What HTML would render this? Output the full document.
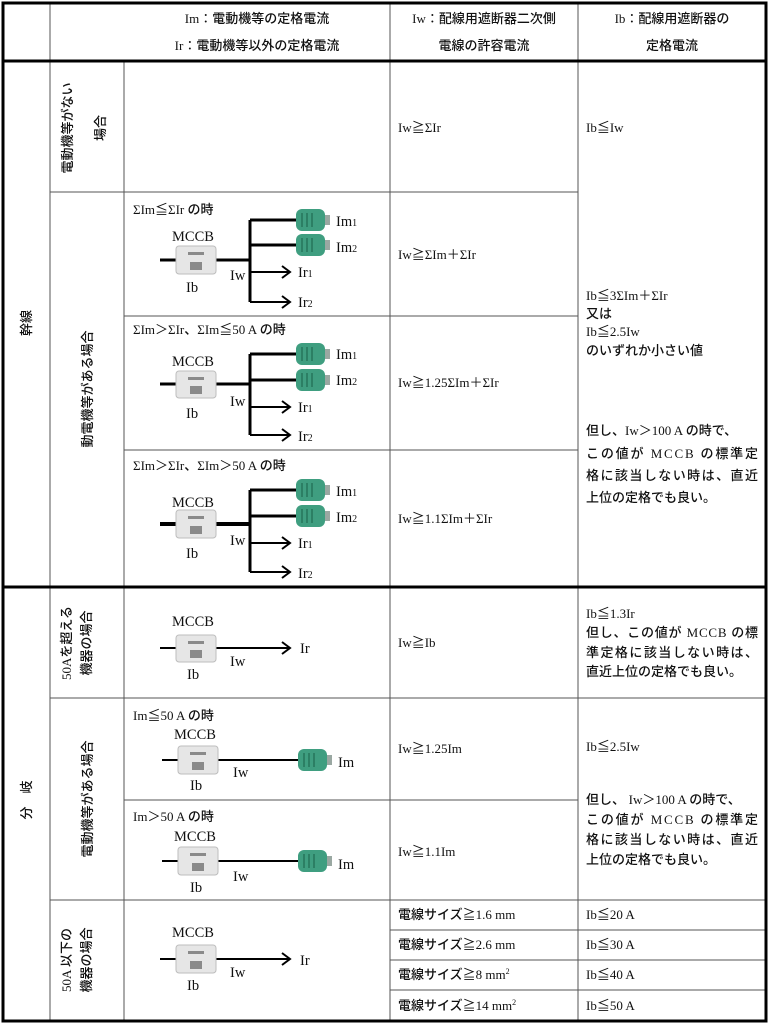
<!DOCTYPE html>
<html><head><meta charset="utf-8"><style>
html,body{margin:0;padding:0;background:#fff;}
svg{display:block;}
text{font-family:"Liberation Serif","Noto Sans CJK JP",serif;font-size:13px;fill:#111;}
.j{font-family:"Liberation Sans","Noto Sans CJK JP",sans-serif;font-weight:500;}
.m{font-size:14.5px;}
.g{stroke:#555;stroke-width:1;}
.k{stroke:#000;stroke-width:3;}
.w{stroke:#000;stroke-width:3;fill:none;}
.a{stroke:#000;stroke-width:2;fill:none;}
</style></head><body>
<svg width="769" height="1024" viewBox="0 0 769 1024" xmlns="http://www.w3.org/2000/svg">
<g class="g">
<line x1="50" y1="3" x2="50" y2="1021"/>
<line x1="124" y1="62" x2="124" y2="1021"/>
<line x1="390" y1="3" x2="390" y2="1021"/>
<line x1="578" y1="3" x2="578" y2="1021"/>
<line x1="50" y1="192" x2="578" y2="192"/>
<line x1="124" y1="316" x2="578" y2="316"/>
<line x1="124" y1="450" x2="578" y2="450"/>
<line x1="50" y1="698" x2="766" y2="698"/>
<line x1="124" y1="800" x2="578" y2="800"/>
<line x1="50" y1="900" x2="766" y2="900"/>
<line x1="390" y1="930" x2="766" y2="930"/>
<line x1="390" y1="960" x2="766" y2="960"/>
<line x1="390" y1="990" x2="766" y2="990"/>
</g>
<g class="k">
<rect x="3" y="3" width="763" height="1018" fill="none"/>
<line x1="3" y1="61" x2="766" y2="61"/>
<line x1="3" y1="587" x2="766" y2="587"/>
</g>
<text x="257" y="23" text-anchor="middle">Im：<tspan class="j">電動機等の定格電流</tspan></text>
<text x="257" y="50" text-anchor="middle">Ir：<tspan class="j">電動機等以外の定格電流</tspan></text>
<text x="484" y="23" text-anchor="middle">Iw：<tspan class="j">配線用遮断器二次側</tspan></text>
<text x="484" y="50" text-anchor="middle" class="j">電線の許容電流</text>
<text x="672" y="23" text-anchor="middle">Ib：<tspan class="j">配線用遮断器の</tspan></text>
<text x="672" y="50" text-anchor="middle" class="j">定格電流</text>
<text class="j" transform="translate(31,323) rotate(-90)" text-anchor="middle">幹線</text>
<text class="j" transform="translate(31,800) rotate(-90)" text-anchor="middle">分　岐</text>
<text class="j" transform="translate(72,128) rotate(-90)" text-anchor="middle">電動機等がない</text>
<text class="j" transform="translate(105,128) rotate(-90)" text-anchor="middle">場合</text>
<text class="j" transform="translate(92,389) rotate(-90)" text-anchor="middle">動電機等がある場合</text>
<text transform="translate(71,643) rotate(-90)" text-anchor="middle">50A<tspan class="j">を超える</tspan></text>
<text class="j" transform="translate(91,643) rotate(-90)" text-anchor="middle">機器の場合</text>
<text class="j" transform="translate(92,799) rotate(-90)" text-anchor="middle">電動機等がある場合</text>
<text transform="translate(71,960) rotate(-90)" text-anchor="middle">50A <tspan class="j">以下の</tspan></text>
<text class="j" transform="translate(91,960) rotate(-90)" text-anchor="middle">機器の場合</text>
<text x="398" y="132">Iw≧ΣIr</text>
<text x="398" y="259">Iw≧ΣIm＋ΣIr</text>
<text x="398" y="387">Iw≧1.25ΣIm＋ΣIr</text>
<text x="398" y="523">Iw≧1.1ΣIm＋ΣIr</text>
<text x="398" y="647">Iw≧Ib</text>
<text x="398" y="753">Iw≧1.25Im</text>
<text x="398" y="856">Iw≧1.1Im</text>
<text x="398" y="919"><tspan class="j">電線サイズ</tspan>≧1.6 mm</text>
<text x="398" y="949"><tspan class="j">電線サイズ</tspan>≧2.6 mm</text>
<text x="398" y="979"><tspan class="j">電線サイズ</tspan>≧8 mm<tspan font-size="8" dy="-5">2</tspan></text>
<text x="398" y="1010"><tspan class="j">電線サイズ</tspan>≧14 mm<tspan font-size="8" dy="-5">2</tspan></text>
<text x="586" y="132">Ib≦Iw</text>
<text x="586" y="300">Ib≦3ΣIm＋ΣIr</text>
<text x="586" y="318" class="j">又は</text>
<text x="586" y="336">Ib≦2.5Iw</text>
<text x="586" y="355" class="j">のいずれか小さい値</text>
<text x="586" y="435"><tspan class="j">但し、</tspan>Iw＞100 A <tspan class="j">の時で、</tspan></text>
<text x="586" y="458" textLength="172" lengthAdjust="spacing"><tspan class="j">この値が </tspan>MCCB <tspan class="j">の標準定</tspan></text>
<text x="586" y="480" class="j" textLength="172" lengthAdjust="spacing">格に該当しない時は、直近</text>
<text x="586" y="502" class="j">上位の定格でも良い。</text>
<text x="586" y="618">Ib≦1.3Ir</text>
<text x="586" y="637" textLength="172" lengthAdjust="spacing"><tspan class="j">但し、この値が </tspan>MCCB <tspan class="j">の標</tspan></text>
<text x="586" y="657" class="j" textLength="172" lengthAdjust="spacing">準定格に該当しない時は、</text>
<text x="586" y="676" class="j">直近上位の定格でも良い。</text>
<text x="586" y="751">Ib≦2.5Iw</text>
<text x="586" y="804"><tspan class="j">但し、 </tspan>Iw＞100 A <tspan class="j">の時で、</tspan></text>
<text x="586" y="824" textLength="172" lengthAdjust="spacing"><tspan class="j">この値が </tspan>MCCB <tspan class="j">の標準定</tspan></text>
<text x="586" y="844" class="j" textLength="172" lengthAdjust="spacing">格に該当しない時は、直近</text>
<text x="586" y="864" class="j">上位の定格でも良い。</text>
<text x="586" y="919">Ib≦20 A</text>
<text x="586" y="949">Ib≦30 A</text>
<text x="586" y="979">Ib≦40 A</text>
<text x="586" y="1010">Ib≦50 A</text>

<g>
<text x="133" y="214">ΣIm≦ΣIr <tspan class="j">の時</tspan></text>
<text x="193" y="241" text-anchor="middle" class="m">MCCB</text>
<line x1="160" y1="260" x2="250" y2="260" class="w"/>
<line x1="250" y1="220" x2="250" y2="302" class="w"/>
<line x1="250" y1="220" x2="298" y2="220" class="w"/>
<line x1="250" y1="245" x2="298" y2="245" class="w"/>
<line x1="250" y1="272" x2="290" y2="272" class="a"/><polyline points="282,266 290,272 282,278" class="a"/>
<line x1="250" y1="302" x2="290" y2="302" class="a"/><polyline points="282,296 290,302 282,308" class="a"/>
<text x="230" y="280" class="m">Iw</text><text x="186" y="292" class="m">Ib</text>
<text x="336" y="226" class="m">Im<tspan font-size="10">1</tspan></text>
<text x="336" y="252" class="m">Im<tspan font-size="10">2</tspan></text>
<text x="298" y="277" class="m">Ir<tspan font-size="10">1</tspan></text>
<text x="298" y="307" class="m">Ir<tspan font-size="10">2</tspan></text>
</g>
<g>
<text x="133" y="334">ΣIm＞ΣIr<tspan class="j">、</tspan>ΣIm≦50 A <tspan class="j">の時</tspan></text>
<text x="193" y="366" text-anchor="middle" class="m">MCCB</text>
<line x1="160" y1="384" x2="250" y2="384" class="w"/>
<line x1="250" y1="354" x2="250" y2="435" class="w"/>
<line x1="250" y1="354" x2="298" y2="354" class="w"/>
<line x1="250" y1="380" x2="298" y2="380" class="w"/>
<line x1="250" y1="407" x2="290" y2="407" class="a"/><polyline points="282,401 290,407 282,413" class="a"/>
<line x1="250" y1="435" x2="290" y2="435" class="a"/><polyline points="282,429 290,435 282,441" class="a"/>
<text x="230" y="406" class="m">Iw</text><text x="186" y="418" class="m">Ib</text>
<text x="336" y="359" class="m">Im<tspan font-size="10">1</tspan></text>
<text x="336" y="385" class="m">Im<tspan font-size="10">2</tspan></text>
<text x="298" y="412" class="m">Ir<tspan font-size="10">1</tspan></text>
<text x="298" y="441" class="m">Ir<tspan font-size="10">2</tspan></text>
</g>
<g>
<text x="133" y="470">ΣIm＞ΣIr<tspan class="j">、</tspan>ΣIm＞50 A <tspan class="j">の時</tspan></text>
<text x="193" y="507" text-anchor="middle" class="m">MCCB</text>
<line x1="160" y1="524" x2="250" y2="524" class="w" style="stroke-width:4"/>
<line x1="250" y1="490" x2="250" y2="572" class="w"/>
<line x1="250" y1="490" x2="298" y2="490" class="w"/>
<line x1="250" y1="516" x2="298" y2="516" class="w"/>
<line x1="250" y1="543" x2="290" y2="543" class="a"/><polyline points="282,537 290,543 282,549" class="a"/>
<line x1="250" y1="572" x2="290" y2="572" class="a"/><polyline points="282,566 290,572 282,578" class="a"/>
<text x="230" y="545" class="m">Iw</text><text x="186" y="558" class="m">Ib</text>
<text x="336" y="496" class="m">Im<tspan font-size="10">1</tspan></text>
<text x="336" y="522" class="m">Im<tspan font-size="10">2</tspan></text>
<text x="298" y="548" class="m">Ir<tspan font-size="10">1</tspan></text>
<text x="298" y="578" class="m">Ir<tspan font-size="10">2</tspan></text>
</g>
<g>
<text x="193" y="626" text-anchor="middle" class="m">MCCB</text>
<line x1="160" y1="648" x2="290" y2="648" class="a"/><polyline points="282,642 290,648 282,654" class="a"/>
<text x="300" y="653" class="m">Ir</text><text x="230" y="666" class="m">Iw</text><text x="187" y="679" class="m">Ib</text>
</g>
<g>
<text x="133" y="720">Im≦50 A <tspan class="j">の時</tspan></text>
<text x="195" y="739" text-anchor="middle" class="m">MCCB</text>
<line x1="162" y1="760" x2="300" y2="760" class="a"/>
<text x="338" y="767" class="m">Im</text><text x="233" y="777" class="m">Iw</text><text x="190" y="790" class="m">Ib</text>
</g>
<g>
<text x="133" y="821">Im＞50 A <tspan class="j">の時</tspan></text>
<text x="195" y="841" text-anchor="middle" class="m">MCCB</text>
<line x1="162" y1="861" x2="300" y2="861" class="a"/>
<text x="338" y="869" class="m">Im</text><text x="233" y="881" class="m">Iw</text><text x="190" y="892" class="m">Ib</text>
</g>
<g>
<text x="193" y="937" text-anchor="middle" class="m">MCCB</text>
<line x1="160" y1="959" x2="290" y2="959" class="a"/><polyline points="282,953 290,959 282,965" class="a"/>
<text x="300" y="965" class="m">Ir</text><text x="230" y="977" class="m">Iw</text><text x="187" y="990" class="m">Ib</text>
</g>

<g fill="#e6e6e6" stroke="#bdbdbd">
<rect x="176" y="246" width="40" height="28" rx="3"/>
<rect x="176" y="371" width="40" height="27" rx="3"/>
<rect x="176" y="510" width="40" height="28" rx="3"/>
<rect x="176" y="635" width="40" height="27" rx="3"/>
<rect x="178" y="746" width="40" height="28" rx="3"/>
<rect x="178" y="847" width="40" height="28" rx="3"/>
<rect x="176" y="945" width="40" height="28" rx="3"/>
</g>
<g fill="#8a8a8a">
<rect x="188" y="252" width="16" height="3"/><rect x="190" y="262" width="12" height="8"/>
<rect x="188" y="377" width="16" height="3"/><rect x="190" y="386" width="12" height="8"/>
<rect x="188" y="516" width="16" height="3"/><rect x="190" y="526" width="12" height="8"/>
<rect x="188" y="641" width="16" height="3"/><rect x="190" y="650" width="12" height="8"/>
<rect x="190" y="752" width="16" height="3"/><rect x="192" y="762" width="12" height="8"/>
<rect x="190" y="853" width="16" height="3"/><rect x="192" y="863" width="12" height="8"/>
<rect x="188" y="951" width="16" height="3"/><rect x="190" y="961" width="12" height="8"/>
</g>
<g>
<g fill="#3f9e80">
<rect x="296" y="209" width="29" height="22" rx="6"/><rect x="296" y="234" width="29" height="22" rx="6"/>
<rect x="296" y="343" width="29" height="22" rx="6"/><rect x="296" y="369" width="29" height="22" rx="6"/>
<rect x="296" y="479" width="29" height="22" rx="6"/><rect x="296" y="505" width="29" height="22" rx="6"/>
<rect x="298" y="749" width="29" height="22" rx="6"/><rect x="298" y="850" width="29" height="22" rx="6"/>
</g>
<g stroke="#1f6b52" stroke-width="1.2">
<path d="M302 213v14M307 213v14M312 213v14M302 238v14M307 238v14M312 238v14"/>
<path d="M302 347v14M307 347v14M312 347v14M302 373v14M307 373v14M312 373v14"/>
<path d="M302 483v14M307 483v14M312 483v14M302 509v14M307 509v14M312 509v14"/>
<path d="M304 753v14M309 753v14M314 753v14M304 854v14M309 854v14M314 854v14"/>
</g>
<g fill="#9aa8a2">
<rect x="325" y="215" width="5" height="10"/><rect x="325" y="240" width="5" height="10"/>
<rect x="325" y="349" width="5" height="10"/><rect x="325" y="375" width="5" height="10"/>
<rect x="325" y="485" width="5" height="10"/><rect x="325" y="511" width="5" height="10"/>
<rect x="327" y="755" width="5" height="10"/><rect x="327" y="856" width="5" height="10"/>
</g>
</g>
</svg>
</body></html>
